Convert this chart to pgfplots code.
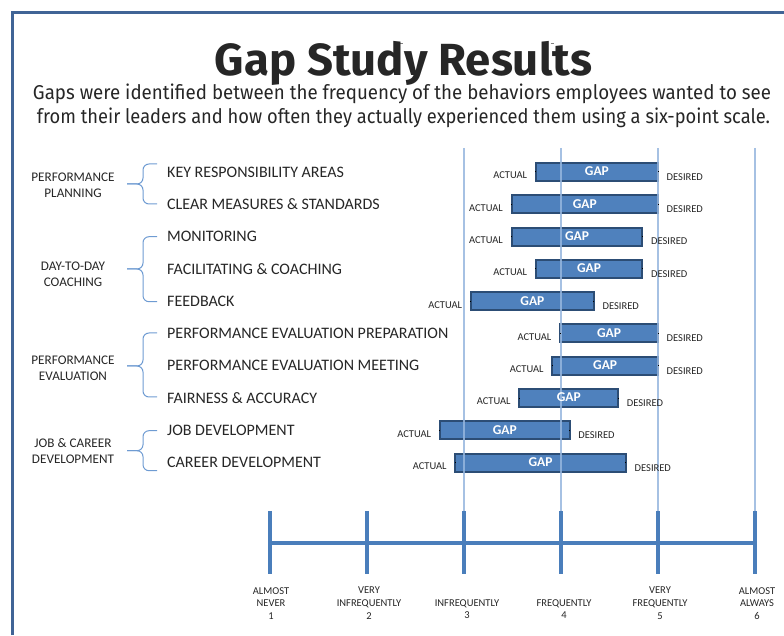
\documentclass[border=0pt]{standalone}
\usepackage{pgfplots}
\pgfplotsset{compat=1.18}
\usepackage{pgfplotstable}
\usepackage{graphicx}
\usepackage{fontspec}
\setmainfont{Carlito}
\newfontfamily\fira{Fira Sans}
\definecolor{frame}{RGB}{64,100,150}
\definecolor{barfill}{RGB}{79,129,189}
\definecolor{bardraw}{RGB}{44,77,117}
\definecolor{gridc}{RGB}{150,182,222}
\definecolor{scalec}{RGB}{74,126,187}
\definecolor{bracec}{RGB}{110,155,210}
\definecolor{txt}{RGB}{38,38,38}

\pgfplotstableread{
row actual desired
1 3.74 5.00
2 3.49 5.00
3 3.49 4.84
4 3.74 4.84
5 3.07 4.34
6 3.99 5.00
7 3.91 5.00
8 3.57 4.59
9 2.75 4.09
10 2.91 4.67
}\gapdata

\pgfplotsset{
  gapaxis/.style={
    at={(270pt,43.1pt)}, anchor=south west,
    scale only axis, width=485pt, height=452.2pt,
    xmin=1, xmax=6, ymin=-14, ymax=0,
    hide axis, clip=false,
  },
  lbl/.style={only marks, mark=*, mark size=0pt, mark options={draw=none, fill=none, line width=0pt}},
}

\begin{document}
\begin{tikzpicture}[x=1pt,y=1pt]
% frame
\draw[frame, line width=3pt] (12.5,0) -- (12.5,622.5) -- (784,622.5);
\draw[gray, line width=0.8pt] (399.5,592) -- (402.5,592);
\draw[gray, line width=0.8pt] (550.5,592) -- (553.5,592);
% title
\node[anchor=base, inner sep=0, text=txt] at (403.5,559) {\resizebox{377pt}{\height}{\fontsize{45}{45}\selectfont\fira\bfseries Gap Study Results}};
\node[anchor=base, inner sep=0, text=txt] at (402,535) {\resizebox{738pt}{\height}{\fontsize{20}{22}\selectfont\fira Gaps were identified between the frequency of the behaviors employees wanted to see}};
\node[anchor=base, inner sep=0, text=txt] at (403.5,511.7) {\resizebox{733pt}{\height}{\fontsize{20}{22}\selectfont\fira from their leaders and how often they actually experienced them using a six-point scale.}};

% bars
\begin{axis}[gapaxis, xbar stacked, bar width=18pt]
\addplot[draw=none, fill=none] table[x=actual, y expr=-\thisrow{row}] {\gapdata};
\addplot[fill=barfill, draw=bardraw, line width=2pt] table[x expr=\thisrow{desired}-\thisrow{actual}, y expr=-\thisrow{row}] {\gapdata};
\end{axis}

% labels, grid and scale
\begin{axis}[gapaxis]
\addplot[lbl, nodes near coords={GAP},
  every node near coord/.append style={anchor=center, inner sep=0pt, text=white, font=\fontsize{13.5}{13.5}\selectfont\bfseries, yshift=0.5pt}]
  table[x expr=(\thisrow{actual}+\thisrow{desired})/2, y expr=-\thisrow{row}] {\gapdata};
\addplot[lbl, nodes near coords={ACTUAL},
  every node near coord/.append style={anchor=east, inner sep=0pt, text=txt, font=\fontsize{10.5}{10.5}\selectfont, xshift=-8.7pt, yshift=-3.5pt}]
  table[x=actual, y expr=-\thisrow{row}] {\gapdata};
\addplot[lbl, nodes near coords={DESIRED},
  every node near coord/.append style={anchor=west, inner sep=0pt, text=txt, font=\fontsize{10.5}{10.5}\selectfont, xshift=8.7pt, yshift=-5pt}]
  table[x=desired, y expr=-\thisrow{row}] {\gapdata};

\pgfplotsinvokeforeach{3,4,5,6}{
  \draw[gridc, line width=1.3pt, opacity=0.85] (axis cs:#1,-0.257) -- (axis cs:#1,-11.495);
}
\draw[scalec, line width=4pt] (axis cs:1,-12.486) -- (axis cs:6,-12.486);
\pgfplotsinvokeforeach{1,2,3,4,5,6}{
  \draw[scalec, line width=4pt] (axis cs:#1,-11.495) -- (axis cs:#1,-13.446);
}
\end{axis}

% item labels
\foreach \r/\t in {1/{KEY RESPONSIBILITY AREAS},2/{CLEAR MEASURES \& STANDARDS},3/{MONITORING},4/{FACILITATING \& COACHING},5/{FEEDBACK},6/{PERFORMANCE EVALUATION PREPARATION},7/{PERFORMANCE EVALUATION MEETING},8/{FAIRNESS \& ACCURACY},9/{JOB DEVELOPMENT},10/{CAREER DEVELOPMENT}}{
  \node[anchor=west, inner sep=0, text=txt, font=\fontsize{16}{16}\selectfont] at (167,{495.3-32.3*\r}) {\t};
}
% group labels
\tikzset{grp/.style={align=center, inner sep=0, text=txt, font=\fontsize{13.2}{16}\selectfont}}
\node[grp] at (73,450) {PERFORMANCE\\PLANNING};
\node[grp] at (73,361) {DAY-TO-DAY\\COACHING};
\node[grp] at (73,267) {PERFORMANCE\\EVALUATION};
\node[grp] at (73,184) {JOB \& CAREER\\DEVELOPMENT};
% braces
\tikzset{br/.style={bracec, line width=1pt, rounded corners=6pt}}
\foreach \t/\m/\b in {164/184/204, 236.7/269/301.7, 333/366/397, 430.7/450.7/470.7}{
  \draw[br] (157,635-\t) -- (143,635-\t) -- (143,635-\m) -- (127,635-\m);
  \draw[br] (127,635-\m) -- (143,635-\m) -- (143,635-\b) -- (157,635-\b);
}
% scale labels
\tikzset{sl/.style={align=center, inner sep=0, anchor=north, text=txt, font=\fontsize{10.5}{12.8}\selectfont}}
\node[sl] at (271,48) {ALMOST\\NEVER\\1};
\node[sl] at (369,48) {VERY\\INFREQUENTLY\\2};
\node[sl] at (467,36) {INFREQUENTLY\\3};
\node[sl] at (564,36) {FREQUENTLY\\4};
\node[sl] at (660,48) {VERY\\FREQUENTLY\\5};
\node[sl] at (757,48) {ALMOST\\ALWAYS\\6};

\pgfresetboundingbox
\path[use as bounding box] (0,0) rectangle (784,635);
\end{tikzpicture}
\end{document}
